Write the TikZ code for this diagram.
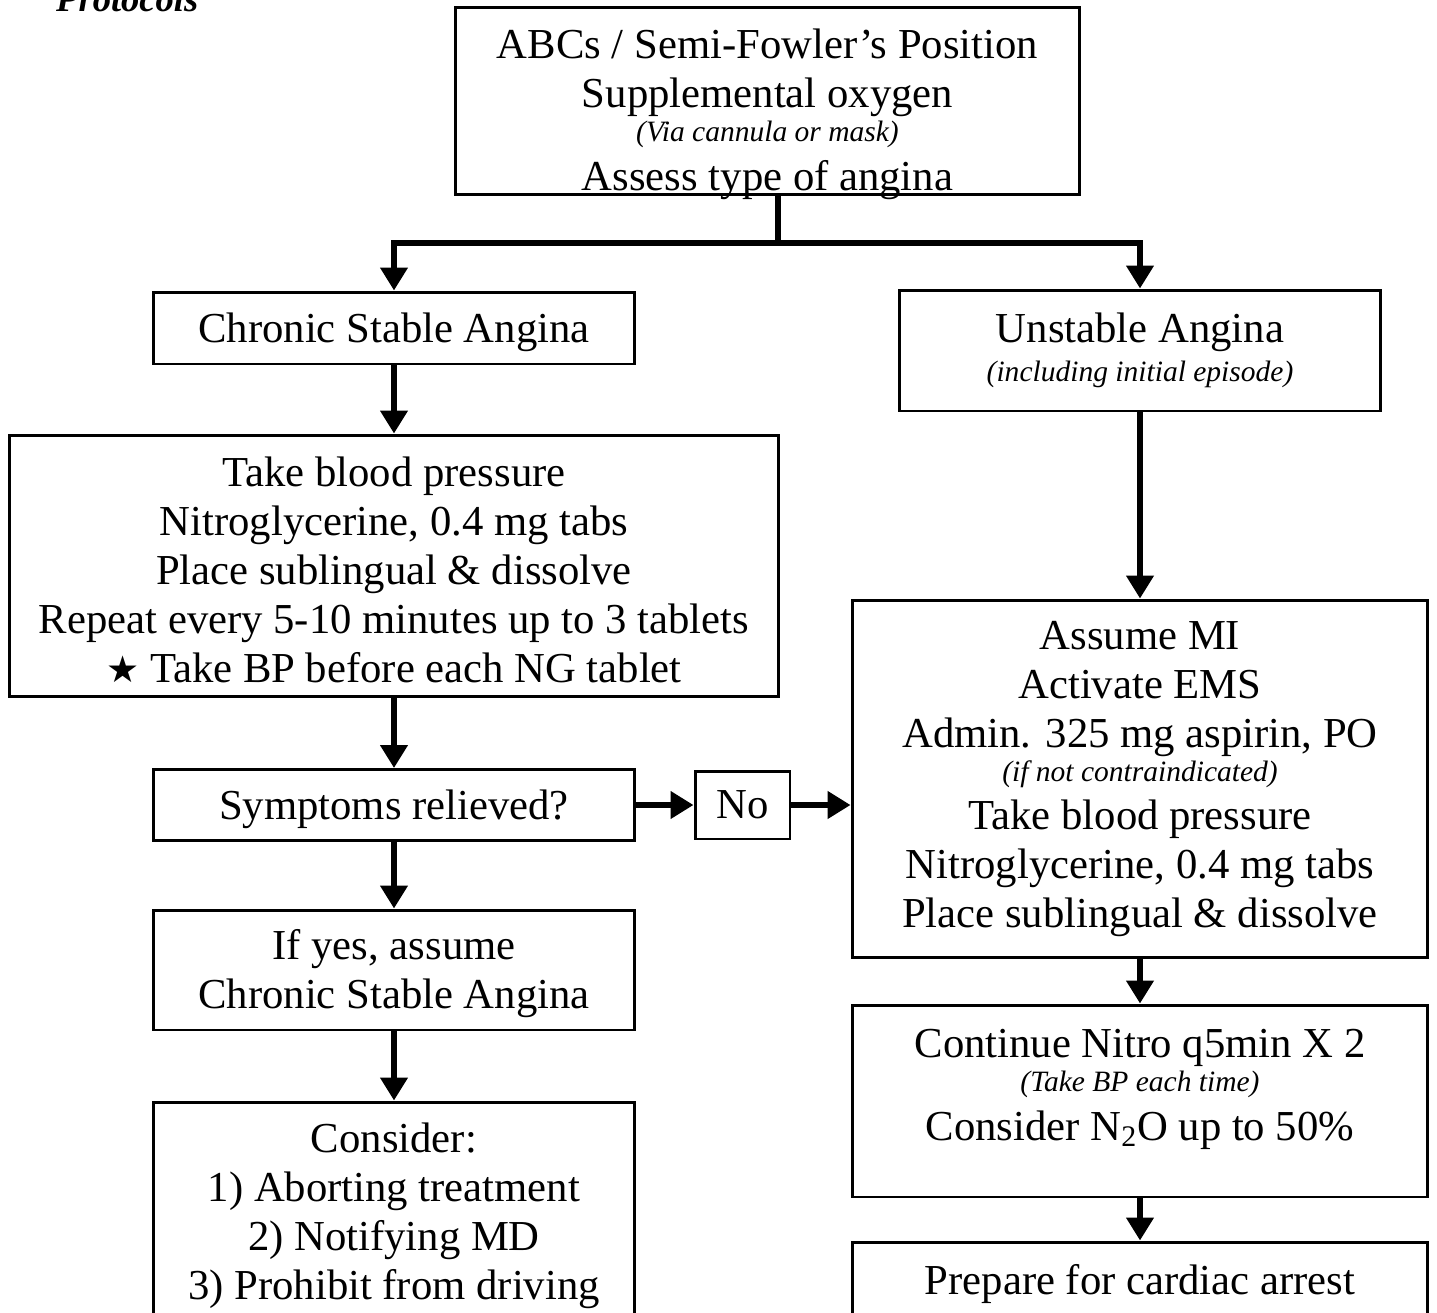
\documentclass[tikz,border=0pt]{standalone}
\usepackage{fontspec}
\setmainfont{Liberation Serif}
\newfontfamily\starfont{DejaVu Sans}
\usetikzlibrary{arrows.meta}
\newcommand{\smallnote}[1]{{\fontsize{16.8}{18}\selectfont\itshape #1}}
\newcommand{\lift}{\rule{0pt}{21.3pt}}
\tikzset{
    action/.style = {rectangle, draw=black, line width=1.7pt, align=center, inner sep=0pt, font=\fontsize{24.3}{27.8}\selectfont},
    flow/.style = {line width=3.2pt, -{Triangle[length=13pt,width=15pt]}},
    trunk/.style = {line width=3.2pt},
    heading/.style = {anchor=base west, font=\fontsize{20.8}{24}\selectfont\bfseries\itshape}
}

\begin{document}
\begin{tikzpicture}[x=0.02cm, y=-0.02cm]
    \path[use as bounding box, clip] (0,0) rectangle (1437,1312);

    \node [heading] (title) at (50,11) {Protocols};

    \node [action, minimum width=12.5cm, minimum height=3.76cm] (abc) at (767.5,101) {\rule{0pt}{27pt}ABCs / Semi-Fowler’s Position\\ Supplemental oxygen\\[-8.5pt] \smallnote{(Via cannula or mask)}\\ \smash{Assess type of angina}};

    \node [action, minimum width=9.64cm, minimum height=1.44cm] (chronic) at (394,328) {\lift Chronic Stable Angina};
    \node [action, minimum width=9.64cm, minimum height=2.42cm] (unstable) at (1140,350.5) {Unstable Angina\\[-5.5pt] \smallnote{(including initial episode)}};

    \node [action, minimum width=15.4cm, minimum height=5.24cm] (takebp) at (394,566) {\lift Take blood pressure\\ Nitroglycerine, 0.4 mg tabs\\ Place sublingual \& dissolve\\ Repeat every 5-10 minutes up to 3 tablets\\ {\starfont\fontsize{21}{24}\selectfont ★} Take BP before each NG tablet};

    \node [action, minimum width=9.64cm, minimum height=1.42cm] (symptoms) at (394,805) {\lift Symptoms relieved?};
    \node [action, minimum width=1.9cm, minimum height=1.36cm] (no) at (742.5,805) {No};

    \node [action, minimum width=11.52cm, minimum height=7.16cm] (mi) at (1140,779) {Assume MI\\ Activate EMS\\ Admin. 325 mg aspirin, PO\\[-8.5pt] \smallnote{(if not contraindicated)}\\ Take blood pressure\\ Nitroglycerine, 0.4 mg tabs\\ Place sublingual \& dissolve};

    \node [action, minimum width=9.64cm, minimum height=2.4cm] (ifyes) at (394,970) {\lift If yes, assume\\ Chronic Stable Angina};
    \node [action, minimum width=9.64cm, minimum height=4.4cm] (consider) at (394,1212) {\lift Consider:\\ 1) Aborting treatment\\ 2) Notifying MD\\ 3) Prohibit from driving};

    \node [action, minimum width=11.52cm, minimum height=3.84cm] (nitro) at (1140,1101) {\lift Continue Nitro q5min X 2\\[-8.5pt] \smallnote{(Take BP each time)}\\ Consider N\textsubscript{2}O up to 50\%\rule[-24pt]{0pt}{1pt}};
    \node [action, minimum width=11.52cm, minimum height=1.52cm] (arrest) at (1140,1280) {\lift Prepare for cardiac arrest};

    % split under the first box
    \coordinate (fork) at (778,243);
    \draw [trunk] (abc.south -| fork) -- (fork);
    \draw [flow] (fork) -| (chronic);
    \draw [flow] (fork) -| (unstable);

    % left column
    \draw [flow] (chronic) -- (takebp);
    \draw [flow] (takebp) -- (symptoms);
    \draw [flow] (symptoms) -- (ifyes);
    \draw [flow] (ifyes) -- (consider);
    \draw [flow] (symptoms) -- (no);
    \draw [flow] (no.east) -- (no.east -| mi.west);

    % right column
    \draw [flow] (unstable) -- (mi);
    \draw [flow] (mi) -- (nitro);
    \draw [flow] (nitro) -- (arrest);
\end{tikzpicture}
\end{document}
